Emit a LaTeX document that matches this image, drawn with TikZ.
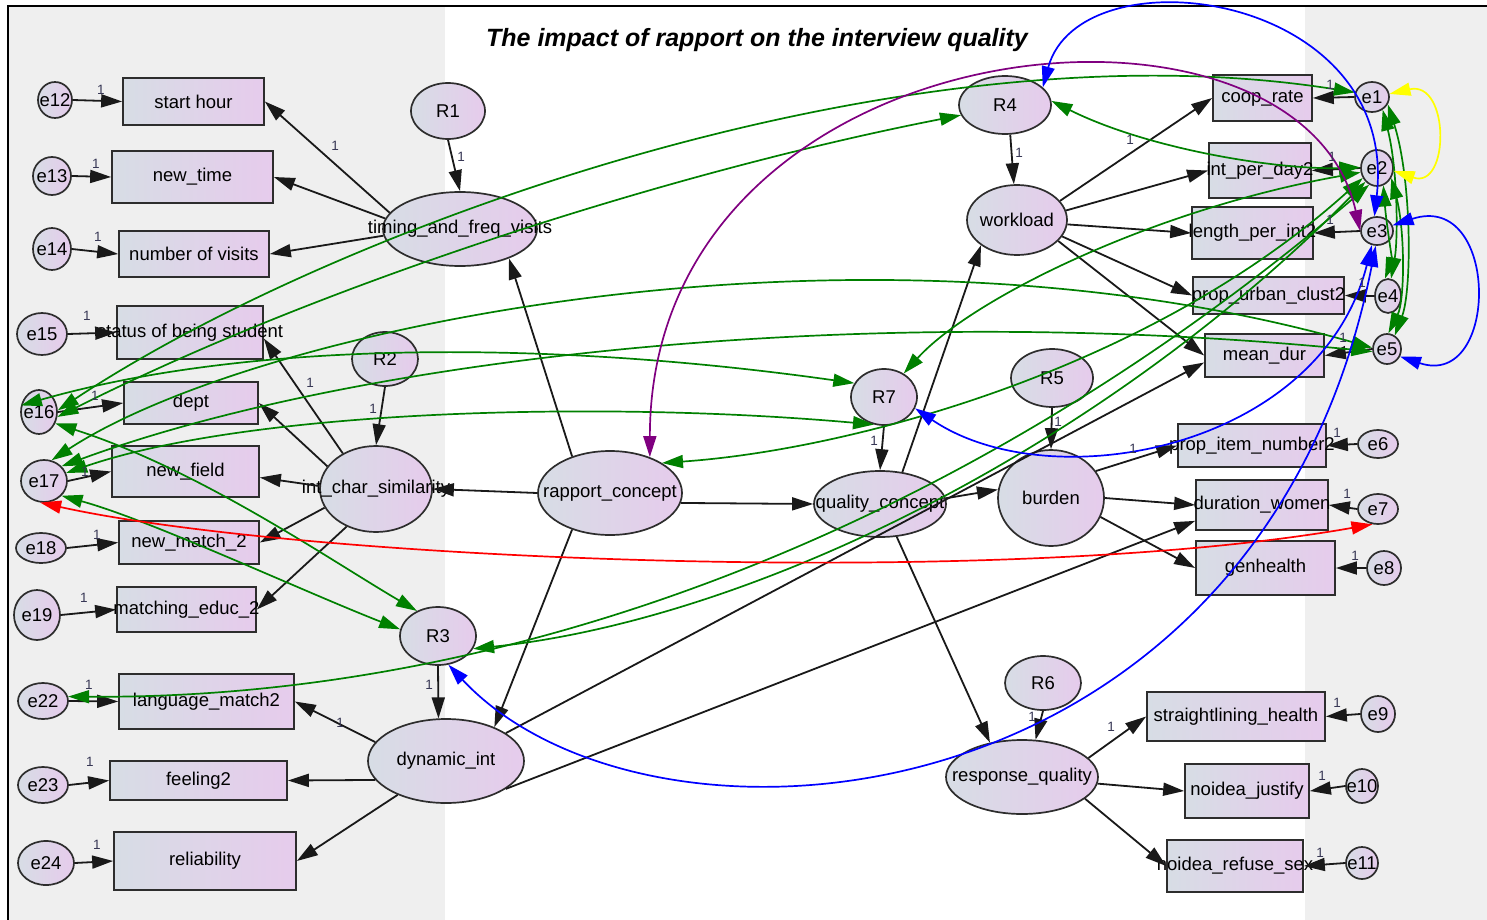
\documentclass[tikz,border=0pt]{standalone}
\usepackage{fontspec}
\setmainfont{Liberation Sans}
\usetikzlibrary{shapes.geometric,arrows.meta,calc}

\definecolor{panel}{RGB}{239,239,239}
\definecolor{shadeL}{RGB}{215,221,229}
\definecolor{shadeR}{RGB}{230,203,236}
\definecolor{edgecol}{RGB}{45,45,45}
\definecolor{cgreen}{RGB}{0,128,0}
\definecolor{cblue}{RGB}{0,0,255}
\definecolor{cred}{RGB}{255,0,0}
\definecolor{cpurple}{RGB}{128,0,128}
\definecolor{cyellow}{RGB}{255,255,0}
\definecolor{wt}{RGB}{55,55,85}

\newcommand{\zw}[1]{\makebox[0pt]{#1}}
\newcommand{\obsnode}[6]{\node[obs,minimum width=#4pt,minimum height=#5pt] (#1) at (#2,#3) {\zw{#6}};}
\newcommand{\latnode}[6]{\node[lat,minimum width=#4pt,minimum height=#5pt] (#1) at (#2,#3) {\zw{#6}};}

\tikzset{
  shape base/.style={draw=edgecol, line width=1.7pt, left color=shadeL, right color=shadeR,
    inner sep=0pt, font=\fontsize{18.5}{20}\selectfont},
  obs/.style={shape base, rectangle},
  lat/.style={shape base, ellipse},
  wlabel/.style={text=wt, font=\fontsize{13.5}{14}\selectfont, inner sep=0pt},
  regr/.style={draw=black!90, line width=1.8pt, -{Triangle[length=21pt,width=13pt]}},
  cov/.style={line width=1.7pt, {Triangle[length=21pt,width=13pt]}-{Triangle[length=21pt,width=13pt]}},
}

\begin{document}
\begin{tikzpicture}[x=1pt,y=-1pt]
\useasboundingbox (0,0) rectangle (1487,920);
% panels and frame
\fill[white] (0,0) rectangle (1487,920);
\fill[panel] (8,6) rectangle (445,920);
\fill[panel] (1305,6) rectangle (1487,920);
\draw[line width=2.5pt] (8,920) -- (8,6) -- (1487,6);

\node[font=\fontsize{25}{28}\selectfont\bfseries\itshape] (title) at (757,40) {The impact of rapport on the interview quality};

% ---- left block: observed variables and their errors
\obsnode{starthour}{193.5}{101.5}{141}{47}{start hour}
\obsnode{newtime}{192.5}{177}{161}{52}{new\_time}
\obsnode{nvisits}{194}{254}{150}{46}{number of visits}
\obsnode{status}{190}{332.5}{146}{53}{status of being student}
\obsnode{dept}{191}{403}{134}{42}{dept}
\obsnode{newfield}{185.5}{471.5}{147}{51}{new\_field}
\obsnode{newmatch}{189}{542.5}{140}{43}{new\_match\_2}
\obsnode{matcheduc}{186.5}{609.5}{139}{45}{matching\_educ\_2}
\obsnode{langmatch}{206.5}{701.5}{175}{55}{language\_match2}
\obsnode{feeling}{198.5}{780.5}{177}{39}{feeling2}
\obsnode{reliab}{205}{861}{182}{58}{reliability}

\latnode{e12}{55}{100}{34}{36}{e12}
\latnode{e13}{52}{176}{38}{38}{e13}
\latnode{e14}{52}{249}{38}{42}{e14}
\latnode{e15}{42}{334}{50}{42}{e15}
\latnode{e16}{39}{412}{36}{44}{e16}
\latnode{e17}{44}{481}{46}{42}{e17}
\latnode{e18}{41}{548}{50}{30}{e18}
\latnode{e19}{37}{615}{46}{50}{e19}
\latnode{e22}{43}{701}{50}{36}{e22}
\latnode{e23}{43}{785}{50}{36}{e23}
\latnode{e24}{46}{863}{56}{44}{e24}

% ---- latent variables
\latnode{R1}{448}{111}{74}{56}{R1}
\latnode{timing}{460}{229}{154}{74}{timing\_and\_freq\_visits}
\latnode{R2}{385}{359}{66}{54}{R2}
\latnode{intchar}{376}{489}{112}{86}{int\_char\_similarity}
\latnode{R3}{438}{636}{76}{58}{R3}
\latnode{dynint}{446}{761}{156}{84}{dynamic\_int}
\latnode{rapport}{610}{493}{144}{84}{rapport\_concept}
\latnode{R7}{884}{397}{66}{56}{R7}
\latnode{quality}{880}{504}{132}{66}{quality\_concept}
\latnode{R4}{1005}{105}{92}{58}{R4}
\latnode{workload}{1017}{220}{100}{70}{workload}
\latnode{R5}{1052}{378}{82}{58}{R5}
\latnode{burden}{1051}{498}{106}{96}{burden}
\latnode{R6}{1043}{683}{76}{54}{R6}
\latnode{response}{1022}{777}{152}{74}{response\_quality}

% ---- right block: observed variables and their errors
\obsnode{coop}{1262.5}{98}{99}{46}{coop\_rate}
\obsnode{intday}{1260}{170.5}{102}{55}{int\_per\_day2}
\obsnode{lenint}{1252.5}{233}{121}{52}{length\_per\_int2}
\obsnode{urban}{1268.5}{295.5}{151}{37}{prop\_urban\_clust2}
\obsnode{meandur}{1264.5}{355.5}{119}{43}{mean\_dur}
\obsnode{propitem}{1252}{445.5}{148}{43}{prop\_item\_number2}
\obsnode{durwomen}{1262}{505}{132}{50}{duration\_women}
\obsnode{genhealth}{1265.5}{568}{139}{54}{genhealth}
\obsnode{straight}{1236}{716.5}{178}{49}{straightlining\_health}
\obsnode{njustify}{1247}{791}{124}{54}{noidea\_justify}
\obsnode{nrefuse}{1235}{866}{136}{52}{noidea\_refuse\_sex}

\latnode{e1}{1372}{97}{34}{30}{e1}
\latnode{e2}{1377}{168}{32}{36}{e2}
\latnode{e3}{1377}{231}{32}{28}{e3}
\latnode{e4}{1388}{296}{26}{34}{e4}
\latnode{e5}{1387}{349}{28}{30}{e5}
\latnode{e6}{1378}{444}{40}{28}{e6}
\latnode{e7}{1378}{509}{40}{30}{e7}
\latnode{e8}{1384}{568}{34}{34}{e8}
\latnode{e9}{1378}{714}{34}{36}{e9}
\latnode{e10}{1362}{786}{32}{34}{e10}
\latnode{e11}{1362}{863}{32}{32}{e11}

% ---- error terms to indicators
\foreach \src/\dst in {e12/starthour,e13/newtime,e14/nvisits,e15/status,e16/dept,e17/newfield,
  e18/newmatch,e19/matcheduc,e22/langmatch,e23/feeling,e24/reliab}
  \draw[regr] (\src.east) -- (\dst.west);
\foreach \src/\dst in {e1/coop,e2/intday,e3/lenint,e4/urban,e5/meandur,e6/propitem,e7/durwomen,
  e8/genhealth,e9/straight,e10/njustify,e11/nrefuse}
  \draw[regr] (\src.west) -- (\dst.east);

% ---- structural and measurement paths
\draw[regr] (timing.167) -- (starthour.east);
\draw[regr] (timing.172) -- (newtime.east);
\draw[regr] (timing.185) -- (nvisits.east);
\draw[regr] (R1.south) -- (timing.north);
\draw[regr] (intchar.133) -- ($(status.east)+(0,6)$);
\draw[regr] (intchar.155) -- (dept.east);
\draw[regr] (intchar.177) -- ($(newfield.east)+(0,6)$);
\draw[regr] (intchar.200) -- (newmatch.east);
\draw[regr] (intchar.232) -- (matcheduc.east);
\draw[regr] (R2.south) -- (intchar.north);
\draw[regr] (dynint.165) -- (langmatch.east);
\draw[regr] (dynint.195) -- (feeling.east);
\draw[regr] (dynint.215) -- (reliab.east);
\draw[regr] (R3.south) -- (dynint.100);
\draw[regr] (rapport.136) -- (timing.-31);
\draw[regr] (rapport.west) -- (intchar.east);
\draw[regr] (rapport.224) -- (dynint.35);
\draw[regr] (rapport.-8) -- (quality.west);
\draw[regr] (R7.south) -- (quality.north);
\draw[regr] (quality.55) -- (workload.215);
\draw[regr] (quality.5) -- (burden.171);
\draw[regr] (quality.-63) -- (response.133);
\draw[regr] (R4.-80) -- (workload.95);
\draw[regr] (workload.24) -- (coop.west);
\draw[regr] (workload.11) -- (intday.west);
\draw[regr] (workload.-5) -- (lenint.west);
\draw[regr] (workload.-20) -- (urban.west);
\draw[regr] (workload.-27) -- (meandur.west);
\draw[regr] (R5.south) -- (burden.north);
\draw[regr] (burden.31) -- (propitem.west);
\draw[regr] (burden.east) -- (durwomen.west);
\draw[regr] (burden.-21) -- (genhealth.west);
\draw[regr] (dynint.25) -- ($(meandur.west)+(0,7)$);
\draw[regr] (dynint.-25) -- ($(durwomen.south west)+(0,-10)$);
\draw[regr] (R6.south) -- (response.70);
\draw[regr] (response.16) -- (straight.west);
\draw[regr] (response.-5) -- (njustify.west);
\draw[regr] (response.-19) -- (nrefuse.west);

% ---- covariances
\draw[cov, cgreen] (e16.5) .. controls (330,230) and (900,20) .. (e1.165);
\draw[cov, cgreen] (e16.-15) .. controls (330,280) and (680,170) .. (R4.193);
\draw[cov, cgreen] (e16.160) .. controls (250,340) and (550,340) .. (R7.155);
\draw[cov, cgreen] (e17.20) .. controls (250,410) and (600,400) .. (R7.250);
\draw[cov, cgreen] (e17.70) .. controls (250,330) and (850,200) .. (e5.175);
\draw[cov, cgreen] (e17.40) .. controls (350,360) and (850,300) .. (e5.190);
\draw[cov, cgreen] (e16.-35) .. controls (200,470) and (330,560) .. (R3.130);
\draw[cov, cgreen] (e17.-40) .. controls (150,520) and (300,590) .. (R3.170);
\draw[cov, cgreen] (e22.10) .. controls (550,700) and (1000,500) .. (e2.245);
\draw[cov, cgreen] (R3.-20) .. controls (750,620) and (1100,450) .. (e2.230);
\draw[cov, cgreen] (rapport.30) .. controls (850,450) and (1150,370) .. (e2.215);
\draw[cov, cgreen] (R7.50) .. controls (970,300) and (1150,210) .. (e2.195);
\draw[cov, cgreen] (R4.5) .. controls (1150,150) and (1280,170) .. (e2.178);
\draw[cov, cgreen] (e1.-50) .. controls (1398,170) and (1398,240) .. (e4.80);
\draw[cov, cgreen] (e1.-25) .. controls (1412,180) and (1412,290) .. (e5.60);
\draw[cov, cgreen] (e2.-70) .. controls (1386,220) and (1392,260) .. (e4.100);
\draw[cov, cgreen] (e2.-35) .. controls (1405,230) and (1405,300) .. (e5.85);

\draw[cov, cred] (e17.-100) .. controls (300,560) and (1000,590) .. (e7.-110);
\draw[cov, cpurple] (rapport.42) .. controls (650,20) and (1300,-40) .. (e3.180);
\draw[cov, cblue] (R4.25) .. controls (1080,-50) and (1400,-10) .. (e3.100);
\draw[cov, cblue] (e3.20) .. controls (1500,190) and (1500,390) .. (e5.-30);
\draw[cov, cblue] (R7.-20) .. controls (1050,500) and (1320,450) .. (e3.-110);
\draw[cov, cblue] (R3.-70) .. controls (650,880) and (1260,830) .. (e3.-95);
\draw[cov, cyellow] (e1.10) .. controls (1450,80) and (1450,190) .. (e2.-10);

% ---- fixed weights
\node[wlabel] (w12) at (101,90) {1};
\node[wlabel] (w13) at (96,164) {1};
\node[wlabel] (w14) at (98,237) {1};
\node[wlabel] (w15) at (87,316) {1};
\node[wlabel] (w16) at (95,396) {1};
\node[wlabel] (w17) at (85,472) {1};
\node[wlabel] (w18) at (97,535) {1};
\node[wlabel] (w19) at (84,598) {1};
\node[wlabel] (w22) at (89,685) {1};
\node[wlabel] (w23) at (90,762) {1};
\node[wlabel] (w24) at (97,845) {1};
\node[wlabel] (w1) at (1330,85) {1};
\node[wlabel] (w2) at (1332,157) {1};
\node[wlabel] (w3) at (1330,220) {1};
\node[wlabel] (w4) at (1362,283) {1};
\node[wlabel] (w5) at (1343,338) {1};
\node[wlabel] (w6) at (1337,433) {1};
\node[wlabel] (w7) at (1347,494) {1};
\node[wlabel] (w8) at (1355,556) {1};
\node[wlabel] (w9) at (1337,703) {1};
\node[wlabel] (w10) at (1322,776) {1};
\node[wlabel] (w11) at (1320,853) {1};
\node[wlabel] (wa) at (335,146) {1};
\node[wlabel] (wb) at (461,157) {1};
\node[wlabel] (wc) at (373,409) {1};
\node[wlabel] (wd) at (310,383) {1};
\node[wlabel] (we) at (340,723) {1};
\node[wlabel] (wf) at (429,685) {1};
\node[wlabel] (wg) at (874,441) {1};
\node[wlabel] (wh) at (1019,153) {1};
\node[wlabel] (wi) at (1130,140) {1};
\node[wlabel] (wj) at (1058,422) {1};
\node[wlabel] (wk) at (1133,449) {1};
\node[wlabel] (wl) at (1032,717) {1};
\node[wlabel] (wm) at (1111,727) {1};
\end{tikzpicture}
\end{document}
